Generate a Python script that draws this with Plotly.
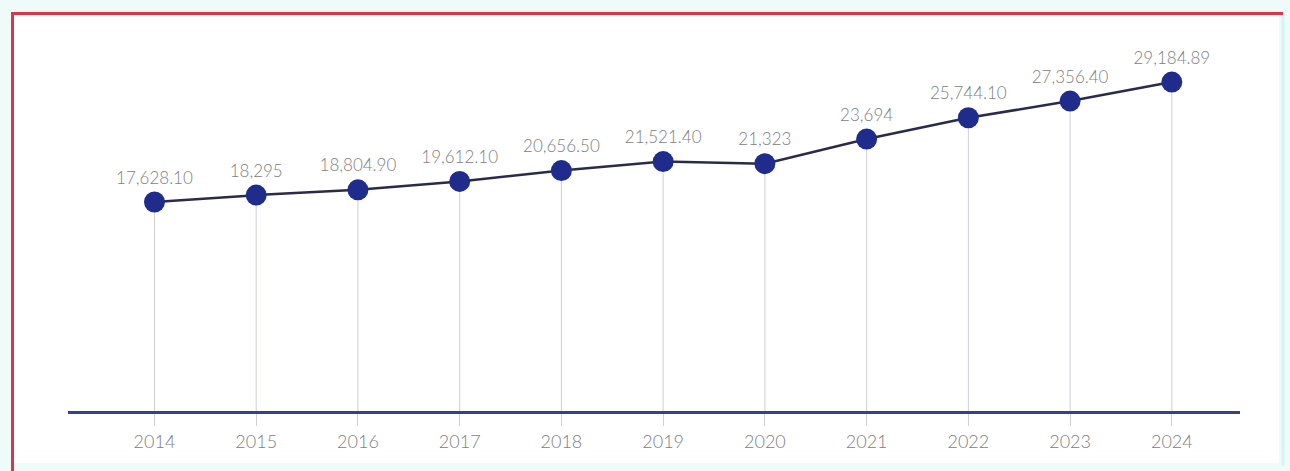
import plotly.graph_objects as go

# Annual series
years = [2014, 2015, 2016, 2017, 2018, 2019, 2020, 2021, 2022, 2023, 2024]
values = [17628.10, 18295, 18804.90, 19612.10, 20656.50, 21521.40,
          21323, 23694, 25744.10, 27356.40, 29184.89]
tick_labels = [str(y) for y in years]

Y_MIN, Y_MAX = -2500, 34200


def fmt(v):
    return f"{v:,.0f}" if float(v).is_integer() else f"{v:,.2f}"


labels = [fmt(v) for v in values]

W, H = 1290, 471
L, R, T, B = 68, 50, 30, 60
PW, PH = W - L - R, H - T - B


def px(x):
    return (x - L) / PW


def py(y):
    return (H - B - y) / PH


fig = go.Figure()

# Drop lines from each point down to the axis
fig.add_trace(go.Scatter(
    x=years, y=values, mode="markers",
    marker=dict(size=1, color="rgba(0,0,0,0)"),
    error_y=dict(type="data", symmetric=False,
                 array=[0] * len(values),
                 arrayminus=[v - Y_MIN for v in values],
                 color="#cfcfd6", thickness=1, width=0),
    hoverinfo="skip", showlegend=False,
))

# Main line with markers and value labels
fig.add_trace(go.Scatter(
    x=years, y=values, mode="lines+markers+text",
    line=dict(color="#2a2b48", width=2.5),
    marker=dict(size=21, color="#1f2c8c"),
    text=labels, textposition="top center",
    textfont=dict(family="Lato", size=17, color="#808080", weight=300),
    cliponaxis=False, showlegend=False,
))

shapes = [
    # white card
    dict(type="rect", xref="paper", yref="paper",
         x0=px(14), x1=px(1279), y0=py(463), y1=py(15),
         fillcolor="white", line=dict(width=0), layer="below"),
    # red top and left border
    dict(type="line", xref="paper", yref="paper",
         x0=px(11), x1=px(1283), y0=py(13.5), y1=py(13.5),
         line=dict(color="#d8354f", width=3)),
    dict(type="line", xref="paper", yref="paper",
         x0=px(12.5), x1=px(12.5), y0=py(12), y1=py(471),
         line=dict(color="#d8354f", width=3)),
    # light right edge
    dict(type="line", xref="paper", yref="paper",
         x0=px(1283), x1=px(1283), y0=py(15), y1=py(466),
         line=dict(color="#d4f5f5", width=3)),
]

fig.update_layout(
    width=W, height=H,
    margin=dict(l=L, r=R, t=T, b=B),
    paper_bgcolor="#eefbf8",
    plot_bgcolor="white",
    shapes=shapes,
    xaxis=dict(
        range=[2013.15, 2024.67],
        tickmode="array", tickvals=years, ticktext=tick_labels,
        showgrid=False, zeroline=False,
        showline=True, linecolor="#3b3d8e", linewidth=3,
        ticks="outside", ticklen=12, tickcolor="#cfcfd6", tickwidth=1,
        tickfont=dict(family="Lato", size=18, color="#808080", weight=300),
    ),
    yaxis=dict(range=[Y_MIN, Y_MAX], visible=False, showgrid=False,
               zeroline=False),
)

fig.write_html("out.html")
